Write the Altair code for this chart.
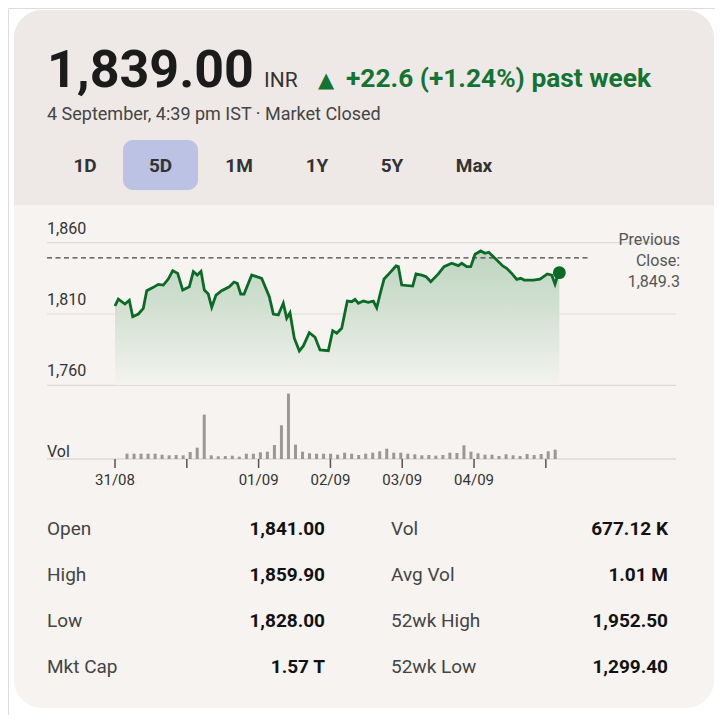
import altair as alt
import pandas as pd

# ---------------- data ----------------
last_price = 1839.00
currency = "INR"
change_arrow = "▲"
change_text = "+22.6 (+1.24%) past week"
timestamp = "4 September, 4:39 pm IST · Market Closed"
ranges = ["1D", "5D", "1M", "1Y", "5Y", "Max"]
selected_range = "5D"
prev_close = 1849.3

price_x = [0.0, 0.46, 1.39, 1.99, 2.47, 3.25, 3.94, 4.42, 5.33, 6.03,
           6.73, 7.42, 8.04, 8.73, 9.43, 10.35, 10.91, 11.46, 11.98, 12.44,
           12.99, 13.47, 14.07, 14.86, 15.92, 16.57, 17.03, 17.51, 17.97, 19.04,
           20.43, 21.49, 22.05, 22.74, 23.44, 23.91, 24.37, 24.97, 25.67, 26.23,
           27.06, 27.86, 28.55, 29.71, 30.32, 30.88, 31.57, 32.35, 32.97, 33.43,
           33.89, 34.58, 35.28, 35.97, 36.45, 37.00, 37.47, 38.30, 39.14, 39.46,
           39.93, 41.46, 41.92, 42.72, 43.32, 43.97, 45.03, 45.82, 46.89, 47.81,
           48.29, 48.98, 49.54, 50.14, 50.93, 51.53, 52.05, 53.06, 54.00, 54.55,
           55.25, 55.95, 56.50, 57.00, 58.26, 59.19, 60.21, 60.82, 61.28, 61.60,
           61.88]
price = [1815.6, 1820.5, 1817.0, 1819.6, 1808.1, 1810.0, 1814.0, 1826.3, 1828.7, 1830.8,
         1830.3, 1834.5, 1840.4, 1838.5, 1826.8, 1829.1, 1839.7, 1837.3, 1839.9, 1826.8,
         1824.0, 1814.7, 1823.3, 1826.3, 1829.1, 1832.4, 1831.5, 1824.0, 1824.0, 1837.3,
         1835.0, 1822.1, 1810.0, 1809.3, 1817.5, 1807.0, 1810.9, 1793.0, 1784.1, 1787.6,
         1796.9, 1793.7, 1784.8, 1784.3, 1798.3, 1796.5, 1800.0, 1819.1, 1818.6, 1820.3,
         1817.5, 1819.1, 1818.2, 1819.1, 1814.4, 1825.6, 1834.5, 1839.0, 1843.7, 1843.2,
         1830.3, 1829.6, 1838.1, 1837.3, 1836.2, 1832.7, 1838.1, 1843.2, 1845.6, 1843.9,
         1845.6, 1843.2, 1843.2, 1851.9, 1854.2, 1852.6, 1853.3, 1848.4, 1843.7, 1842.0,
         1838.5, 1834.3, 1835.0, 1833.8, 1833.8, 1834.5, 1838.1, 1837.3, 1831.0, 1836.2,
         1839.0]

vol_x = list(range(1, 63))
vol_k = [85, 85, 85, 85, 85, 69, 59, 64, 59, 112, 181, 709, 59, 43, 48, 53, 37, 85, 85, 107,
         117, 224, 539, 1045, 229, 117, 91, 85, 85, 85, 69,
         101, 85, 64, 85, 101, 123, 165, 101, 101, 85, 75, 59, 64, 53, 64, 101, 96, 219, 117,
         91, 69, 69, 48, 75, 59, 48, 80, 64, 80, 123, 149]

y_ticks = [1860, 1810, 1760]
x_tick_pos = [0, 10, 20, 30, 40, 50, 60]
x_tick_labels = ["31/08", "", "01/09", "02/09", "03/09", "04/09", ""]

stats_left_labels = ["Open", "High", "Low", "Mkt Cap"]
stats_left_values = ["1,841.00", "1,859.90", "1,828.00", "1.57 T"]
stats_right_labels = ["Vol", "Avg Vol", "52wk High", "52wk Low"]
stats_right_values = ["677.12 K", "1.01 M", "1,952.50", "1,299.40"]

# ---------------- tables ----------------
price_df = pd.DataFrame({"t": price_x, "price": price})
last_df = price_df.tail(1)
vol_df = pd.DataFrame({"t": vol_x, "vol": vol_k})
ytick_df = pd.DataFrame({"price": y_ticks})
xtick_df = pd.DataFrame({"t": x_tick_pos, "label": x_tick_labels})
prev_df = pd.DataFrame({"price": [prev_close]})
stats_df = pd.DataFrame({
    "row": list(range(4)),
    "l1": stats_left_labels, "v1": stats_left_values,
    "l2": stats_right_labels, "v2": stats_right_values,
})
one = pd.DataFrame({"k": [0]})

# ---------------- scales / style ----------------
FONT = "Roboto"
GREEN = "#0b6b26"
xs = alt.Scale(domain=[0, 62], range=[107, 552.2], nice=False, zero=False)
ps = alt.Scale(domain=[1760, 1860], range=[377.3, 234.7], nice=False, zero=False)
vs = alt.Scale(domain=[0, 1050], range=[451, 385.3], nice=False, zero=True)
rows = alt.Scale(domain=[0, 3], range=[521, 659], nice=False, zero=False)

X = lambda: alt.X("t:Q", scale=xs, axis=None)
P = lambda: alt.Y("price:Q", scale=ps, axis=None)


def rect(x, x2, y, y2, color, **kw):
    return alt.Chart(one).mark_rect(color=color, **kw).encode(
        x=alt.value(x), x2=alt.value(x2), y=alt.value(y), y2=alt.value(y2))


def label(text, x, y, size, color="#333", weight="normal", align="left", baseline="alphabetic", font=FONT):
    return alt.Chart(one).mark_text(
        font=font, fontSize=size, color=color, fontWeight=weight, align=align, baseline=baseline
    ).encode(x=alt.value(x), y=alt.value(y), text=alt.value(text))


layers = []
# card
layers.append(rect(6, 706, 2, 700, "#f6f3f0", cornerRadius=28))
layers.append(rect(6, 706, 2, 197, "#eee9e6", cornerRadiusTopLeft=28, cornerRadiusTopRight=28))

# header
layers.append(label(f"{last_price:,.2f}", 39, 79, 52, "#1b1b1b", "bold"))
layers.append(label(currency, 256, 79, 21, "#333"))
layers.append(label(change_arrow, 310, 79, 21, "#137333", "normal", font="DejaVu Sans"))
layers.append(label(change_text, 338, 79, 26.3, "#137333", "bold"))
layers.append(label(timestamp, 39, 112, 18, "#444"))

# range buttons
btn_x = [77, 152.5, 231, 309, 384, 466]
for name, bx in zip(ranges, btn_x):
    if name == selected_range:
        layers.append(rect(bx - 37.5, bx + 37.5, 132, 182, "#bcc2e3", cornerRadius=10))
    layers.append(label(name, bx, 158, 19, "#333", "bold", "center", "middle"))

# price gridlines + labels
layers.append(alt.Chart(ytick_df).mark_rule(color="#dddbd8", strokeWidth=1.2).encode(
    x=alt.value(39), x2=alt.value(668), y=P()))
layers.append(alt.Chart(ytick_df).mark_text(
    font=FONT, fontSize=16, color="#333", align="left", baseline="middle", dy=-14
).encode(x=alt.value(39), y=P(), text=alt.Text("price:Q", format=",.0f")))

# area + line
grad = alt.Gradient(
    gradient="linear",
    stops=[alt.GradientStop(color="#f4f3ef", offset=0),
           alt.GradientStop(color="#d3e1d2", offset=0.55),
           alt.GradientStop(color="#bed5c0", offset=1)],
    x1=1, x2=1, y1=1, y2=0)
layers.append(alt.Chart(price_df).mark_area(color=grad).encode(
    x=X(), y=P(), y2=alt.datum(1760)))

# previous close
layers.append(alt.Chart(prev_df).mark_rule(color="#444", strokeWidth=1.2, strokeDash=[5, 3.5]).encode(
    x=alt.value(39), x2=alt.value(580), y=P()))
layers.append(alt.Chart(one).mark_text(
    font=FONT, fontSize=16, color="#555", align="right", baseline="top", lineHeight=21
).encode(x=alt.value(672), y=alt.value(224),
         text=alt.value(["Previous", "Close:", f"{prev_close:,.1f}"])))

layers.append(alt.Chart(price_df).mark_line(color=GREEN, strokeWidth=2.8).encode(x=X(), y=P()))
layers.append(alt.Chart(last_df).mark_point(color=GREEN, filled=True, opacity=1, size=165).encode(x=X(), y=P()))

# volume
layers.append(rect(39, 668, 450, 452, "#e2dfdc"))
layers.append(alt.Chart(vol_df).mark_bar(color="#9a9896", size=3).encode(
    x=X(), y=alt.Y("vol:Q", scale=vs, axis=None)))
layers.append(label("Vol", 39, 444, 16, "#333", baseline="middle"))

# x ticks
layers.append(alt.Chart(xtick_df).mark_rule(color="#555", strokeWidth=1.5).encode(
    x=X(), y=alt.value(451), y2=alt.value(460)))
layers.append(alt.Chart(xtick_df).mark_text(
    font=FONT, fontSize=15, color="#333", baseline="middle"
).encode(x=X(), y=alt.value(472), text="label:N"))

# stats table
R = lambda: alt.Y("row:Q", scale=rows, axis=None)
layers.append(alt.Chart(stats_df).mark_text(font=FONT, fontSize=19, color="#444", align="left", baseline="middle")
              .encode(x=alt.value(39), y=R(), text="l1:N"))
layers.append(alt.Chart(stats_df).mark_text(font=FONT, fontSize=19, color="#111", fontWeight="bold", align="right", baseline="middle")
              .encode(x=alt.value(317), y=R(), text="v1:N"))
layers.append(alt.Chart(stats_df).mark_text(font=FONT, fontSize=19, color="#444", align="left", baseline="middle")
              .encode(x=alt.value(383), y=R(), text="l2:N"))
layers.append(alt.Chart(stats_df).mark_text(font=FONT, fontSize=19, color="#111", fontWeight="bold", align="right", baseline="middle")
              .encode(x=alt.value(660), y=R(), text="v2:N"))

chart = alt.layer(*layers).resolve_scale(x="independent", y="independent").properties(
    width=707, height=707, autosize=alt.AutoSizeParams(type="none"), padding=0,
    background="white"
).configure_view(stroke=None).configure(font=FONT)

chart.save("out.html", embed_options={"renderer": "svg", "actions": False})
